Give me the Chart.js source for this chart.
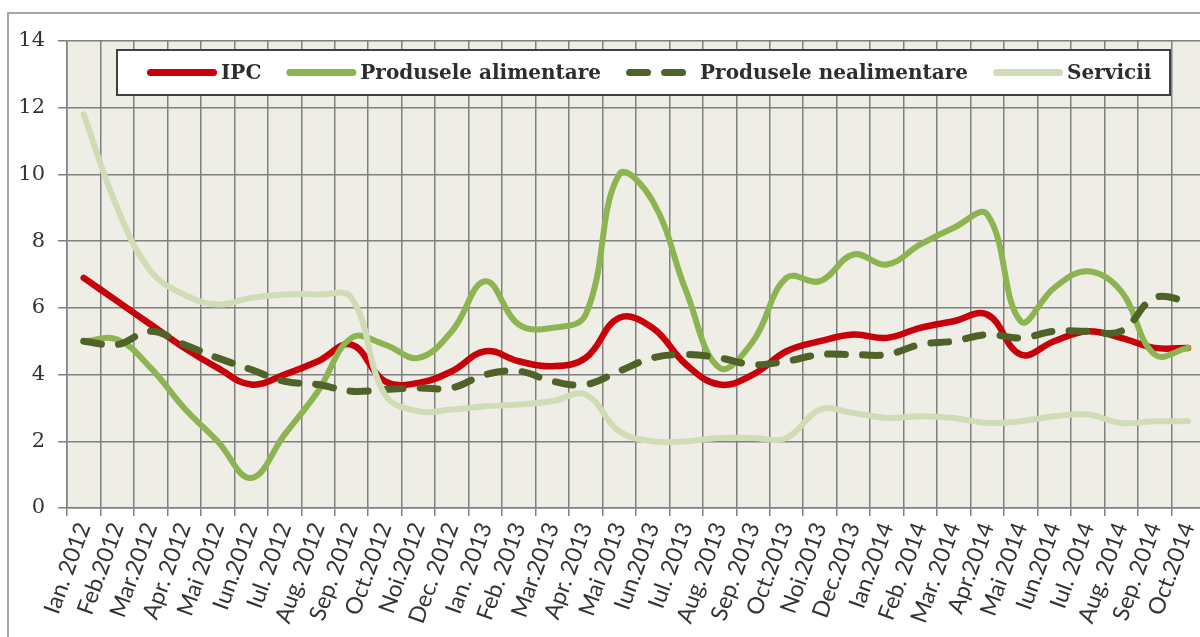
<!DOCTYPE html>
<html>
<head>
<meta charset="utf-8">
<script src="https://cdn.jsdelivr.net/npm/chart.js@4.4.1/dist/chart.umd.min.js"></script>
<style>
  html, body { margin: 0; padding: 0; background: #fff; overflow: hidden; }
  #wrap { width: 1200px; height: 637px; overflow: hidden; position: relative; }
  #box { position: absolute; left: 0; top: 0; width: 1217px; height: 637px; }
</style>
</head>
<body>
<div id="wrap"><div id="box"><canvas id="chart"></canvas></div></div>
<script>
// luni (axa X)
const months = ['Ian. 2012', 'Feb.2012', 'Mar.2012', 'Apr. 2012', 'Mai 2012', 'Iun.2012', 'Iul. 2012', 'Aug. 2012',
  'Sep. 2012', 'Oct.2012', 'Noi.2012', 'Dec. 2012', 'Ian. 2013', 'Feb. 2013', 'Mar.2013', 'Apr. 2013', 'Mai 2013',
  'Iun.2013', 'Iul. 2013', 'Aug. 2013', 'Sep. 2013', 'Oct.2013', 'Noi.2013', 'Dec.2013', 'Ian.2014', 'Feb. 2014',
  'Mar. 2014', 'Apr.2014', 'Mai 2014', 'Iun.2014', 'Iul. 2014', 'Aug. 2014', 'Sep. 2014', 'Oct.2014'];

const ipc = [6.9, 6.2, 5.5, 4.8, 4.2, 3.7, 4.0, 4.4, 4.9, 3.8, 3.75, 4.1, 4.7, 4.4, 4.25, 4.5, 5.7,
  5.4, 4.3, 3.7, 4.0, 4.7, 5.0, 5.2, 5.1, 5.4, 5.6, 5.8, 4.6, 5.0, 5.3, 5.1, 4.8, 4.8];
const food = [5.0, 5.05, 4.2, 3.0, 2.0, 0.9, 2.2, 3.5, 5.1, 4.9, 4.5, 5.3, 6.8, 5.5, 5.4, 5.8, 10.0,
  9.2, 6.5, 4.2, 5.0, 6.9, 6.8, 7.6, 7.3, 7.9, 8.4, 8.8, 5.6, 6.6, 7.1, 6.5, 4.6, 4.8];
const nonFood = [5.0, 4.9, 5.3, 4.9, 4.5, 4.15, 3.8, 3.7, 3.5, 3.55, 3.6, 3.6, 4.0, 4.1, 3.8, 3.7, 4.1,
  4.5, 4.6, 4.5, 4.3, 4.4, 4.6, 4.6, 4.6, 4.9, 5.0, 5.2, 5.1, 5.3, 5.3, 5.3, 6.3, 6.2];
const services = [11.8, 9.0, 7.1, 6.4, 6.1, 6.3, 6.4, 6.4, 6.3, 3.4, 2.9, 2.95, 3.05, 3.1, 3.2, 3.4, 2.3,
  2.0, 2.0, 2.1, 2.1, 2.1, 2.95, 2.85, 2.7, 2.75, 2.7, 2.55, 2.6, 2.75, 2.8, 2.55, 2.6, 2.6];

const gridColor = '#808080';

// fundal, rama exterioara
const frame = {
  id: 'frame',
  beforeDraw(chart) {
    const { ctx, chartArea: a } = chart;
    ctx.save();
    ctx.fillStyle = '#fff';
    ctx.fillRect(0, 0, chart.width, chart.height);
    ctx.fillStyle = '#eeeee6';
    ctx.fillRect(a.left, a.top, a.right - a.left, a.bottom - a.top);
    ctx.strokeStyle = '#a6a6a6';
    ctx.lineWidth = 2;
    ctx.strokeRect(8, 13, chart.width + 20, chart.height + 20);
    ctx.restore();
  }
};

// legenda in interiorul graficului
const legendBox = {
  id: 'legendBox',
  afterDatasetsDraw(chart) {
    const ctx = chart.ctx;
    const x0 = 117, y0 = 50, w = 1053, h = 45;
    const cy = y0 + h / 2;
    ctx.save();
    ctx.fillStyle = '#fff';
    ctx.fillRect(x0, y0, w, h);
    ctx.strokeStyle = '#404040';
    ctx.lineWidth = 2;
    ctx.strokeRect(x0, y0, w, h);
    ctx.font = 'bold 20px "DejaVu Serif"';
    ctx.textBaseline = 'middle';
    ctx.fillStyle = '#2e2e2e';
    let x = x0 + 30;
    chart.data.datasets.forEach(ds => {
      ctx.beginPath();
      ctx.strokeStyle = ds.borderColor;
      ctx.lineWidth = 7;
      ctx.lineCap = 'round';
      ctx.setLineDash(ds.borderDash || []);
      ctx.moveTo(x + 3.5, cy);
      ctx.lineTo(x + 66.5, cy);
      ctx.stroke();
      ctx.setLineDash([]);
      x += 74;
      ctx.fillText(ds.label, x, cy + 1);
      x += ctx.measureText(ds.label).width + 25;
    });
    ctx.restore();
  }
};

new Chart(document.getElementById('chart'), {
  type: 'line',
  data: {
    labels: months,
    datasets: [
      { label: 'IPC', data: ipc, borderColor: '#c8000a', borderWidth: 6.5, order: 4 },
      { label: 'Produsele alimentare', data: food, borderColor: '#8cb450', borderWidth: 6, order: 3 },
      { label: 'Produsele nealimentare', data: nonFood, borderColor: '#4f6228', borderWidth: 7, borderDash: [18, 17], order: 2 },
      { label: 'Servicii', data: services, borderColor: '#cfdcb6', borderWidth: 6, order: 1 }
    ]
  },
  options: {
    responsive: true,
    maintainAspectRatio: false,
    animation: false,
    layout: { padding: { top: 41, left: 0, right: 0, bottom: 0 } },
    elements: {
      point: { radius: 0 },
      line: { tension: 0.4, borderCapStyle: 'round', borderJoinStyle: 'round', fill: false }
    },
    plugins: { legend: { display: false }, tooltip: { enabled: false } },
    scales: {
      x: {
        offset: true,
        grid: { offset: true, color: gridColor, lineWidth: 1.5, tickLength: 8 },
        border: { color: gridColor, width: 1.5 },
        ticks: { autoSkip: false, maxRotation: 70, minRotation: 70, padding: 3, color: '#333',
          font: { family: 'Lato', size: 23 } },
        afterFit(s) { s.height = 129; }
      },
      y: {
        min: 0, max: 14,
        grid: { color: gridColor, lineWidth: 1.5, tickLength: 9 },
        border: { color: gridColor, width: 1.5 },
        ticks: { stepSize: 2, padding: 13, color: '#333', font: { family: '"DejaVu Serif"', size: 21 } },
        afterFit(s) { s.width = 67; }
      }
    }
  },
  plugins: [frame, legendBox]
});
</script>
</body>
</html>
